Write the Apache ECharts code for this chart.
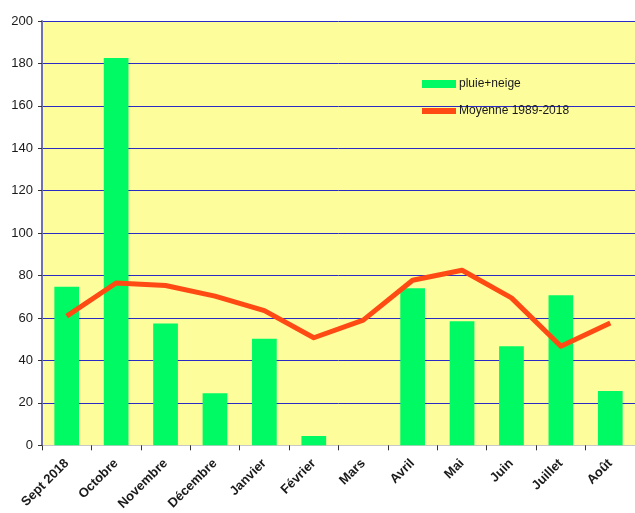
<!DOCTYPE html>
<html>
<head>
<meta charset="utf-8">
<script src="https://cdn.jsdelivr.net/npm/echarts@6/dist/echarts.min.js"></script>
<style>
  html, body { margin: 0; padding: 0; background: #fff; }
  #chart { width: 635px; height: 513px; }
</style>
</head>
<body>
<div id="chart"></div>
<script>
// monthly data, Sept 2018 -> Aout 2019
var months = ['Sept 2018', 'Octobre', 'Novembre', 'Décembre', 'Janvier', 'Février', 'Mars', 'Avril', 'Mai', 'Juin', 'Juillet', 'Août'];
var pluieNeige = [74.7, 182.6, 57.4, 24.5, 50.2, 4.4, 0, 74, 58.5, 46.7, 70.7, 25.6];
var moyenne = [60.9, 76.5, 75.3, 70.3, 63.5, 50.7, 59, 77.8, 82.5, 69.5, 46.7, 57.7];

var chart = echarts.init(document.getElementById('chart'));

var option = {
  animation: false,
  textStyle: { fontFamily: 'Liberation Sans, Arial, sans-serif' },
  grid: {
    left: 42,
    right: 0,
    top: 21,
    bottom: 67,
    show: true,
    backgroundColor: '#fdfd9c',
    borderWidth: 0
  },
  legend: [{
    data: [{ name: 'pluie+neige', icon: 'rect' }],
    left: 422,
    top: 78,
    padding: 0,
    itemWidth: 34,
    itemHeight: 8,
    textStyle: { color: '#1a1a1a', fontSize: 12, padding: [0, 0, 0, -2] }
  }, {
    data: [{ name: 'Moyenne 1989-2018', icon: 'rect' }],
    left: 422,
    top: 105,
    padding: 0,
    itemWidth: 34,
    itemHeight: 6,
    textStyle: { color: '#1a1a1a', fontSize: 12, padding: [0, 0, 0, -2] }
  }],
  xAxis: {
    type: 'category',
    data: months,
    boundaryGap: true,
    axisLine: { show: true, lineStyle: { color: '#c8c8c8', width: 1 } },
    axisTick: { show: true, length: 5, lineStyle: { color: '#333' } },
    axisLabel: {
      rotate: 45,
      color: '#1a1a1a',
      fontSize: 13,
      fontWeight: 'bold',
      margin: 16,
      interval: 0
    },
    splitLine: { show: false }
  },
  yAxis: {
    type: 'value',
    min: 0,
    max: 200,
    interval: 20,
    axisLine: { show: true, lineStyle: { color: '#7070b0', width: 2 } },
    axisTick: { show: true, length: 4, lineStyle: { color: '#333' } },
    axisLabel: { color: '#1a1a1a', fontSize: 13, margin: 9 },
    splitLine: { show: true, lineStyle: { color: '#2a2ac4', width: 1 } }
  },
  series: [{
    type: 'bar',
    name: 'pluie+neige',
    data: pluieNeige,
    barWidth: '50%',
    itemStyle: { color: '#00fa64' }
  }, {
    type: 'line',
    name: 'Moyenne 1989-2018',
    data: moyenne,
    showSymbol: false,
    symbol: 'none',
    smooth: false,
    lineStyle: { color: '#ff4a14', width: 5, join: 'round' },
    itemStyle: { color: '#ff4a14' }
  }]
};

chart.setOption(option);
</script>
</body>
</html>
